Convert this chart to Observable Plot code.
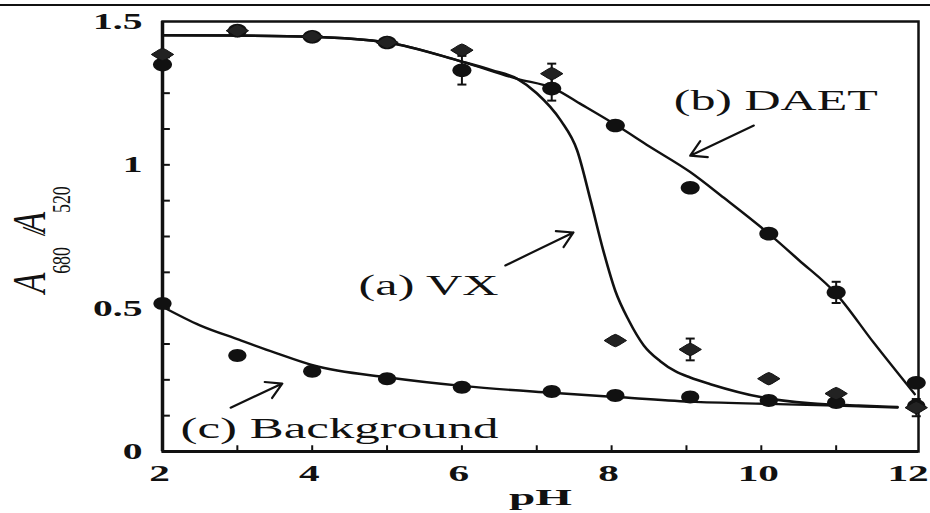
<!DOCTYPE html>
<html><head><meta charset="utf-8">
<script src="https://cdn.jsdelivr.net/npm/d3@7"></script>
<script src="https://cdn.jsdelivr.net/npm/@observablehq/plot@0.6"></script>
<style>
html,body{margin:0;padding:0;background:#fff;}
#wrap{position:relative;width:930px;height:513px;overflow:hidden;}
#scanline{position:absolute;left:0;top:4px;width:930px;height:2px;background:#111;}
#chart{position:absolute;left:0;top:0;}
</style></head><body>
<div id="wrap"><div id="chart"></div><div id="scanline"></div></div>
<script>
// measured pH of the data points
const pH = [2, 3, 4, 5, 6, 7.2, 8.05, 9.05, 10.1, 11, 12.07];
// (a) VX
const vxValues = [1.385, 1.468, 1.447, 1.427, 1.40, 1.318, 0.387, 0.356, 0.254, 0.202, 0.153];
const vxErrors = [0, 0, 0, 0, 0, 0.035, 0, 0.038, 0, 0, 0.03];
// (b) DAET
const daetValues = [1.35, 1.468, 1.447, 1.427, 1.33, 1.266, 1.137, 0.92, 0.76, 0.555, 0.24];
const daetErrors = [0, 0, 0, 0, 0.05, 0.042, 0, 0, 0, 0.037, 0];
// (c) Background
const bgValues = [0.516, 0.335, 0.28, 0.254, 0.224, 0.209, 0.195, 0.19, 0.178, 0.171, 0.16];

// fitted curves
const vxFitPH     = [2, 3, 4, 5, 6, 6.4, 6.74, 7.0, 7.32, 7.54, 7.72, 7.89, 8.05, 8.23, 8.43, 8.65, 8.85, 9.05, 9.32, 9.99, 10.66, 11.3, 11.82];
const vxFitValues = [1.452, 1.451, 1.447, 1.427, 1.36, 1.33, 1.30, 1.25, 1.155, 1.05, 0.875, 0.70, 0.56, 0.457, 0.37, 0.315, 0.28, 0.258, 0.235, 0.19, 0.168, 0.16, 0.155];
const daetFitPH     = [2, 3, 4, 5, 6, 6.74, 7.23, 7.6, 8.07, 8.5, 9.05, 9.5, 10.1, 10.5, 11.0, 11.5, 12.05];
const daetFitValues = [1.452, 1.451, 1.447, 1.427, 1.36, 1.30, 1.266, 1.21, 1.137, 1.065, 0.975, 0.885, 0.76, 0.668, 0.55, 0.38, 0.2];
const bgFitPH     = [2, 2.5, 3.02, 3.5, 4.02, 5.02, 6.03, 7.2, 8.07, 9.05, 10.1, 11, 11.82];
const bgFitValues = [0.505, 0.44, 0.39, 0.345, 0.30, 0.258, 0.228, 0.205, 0.19, 0.174, 0.166, 0.16, 0.153];

// axes
const xTicks = [2, 4, 6, 8, 10, 12];
const xTickLabels = ["2", "4", "6", "8", "10", "12"];
const xMinorTicks = [3, 4, 5, 6, 7, 8, 9, 10, 11];
const yTicks = [0, 0.5, 1, 1.5];
const yTickLabels = ["0", "0.5", "1", "1.5"];
const yMinorTicks = [0.125, 0.25, 0.375, 0.5, 0.625, 0.75, 0.875, 1, 1.125, 1.25, 1.375];
const xLabel = ["pH"];
const yLabelParts = [["A", "italic"], ["680", "sub"], ["/", "italic"], ["A", "italic"], ["520", "sub"]];

// annotations
const annotations = [
  {text: "(b) DAET", x: 8.83, y: 1.224},
  {text: "(a) VX", x: 4.62, y: 0.579},
  {text: "(c) Background", x: 2.24, y: 0.08}
];
const arrows = [
  {x1: 9.90, y1: 1.137, x2: 9.05, y2: 1.032},
  {x1: 6.58, y1: 0.649, x2: 7.49, y2: 0.764},
  {x1: 2.91, y1: 0.153, x2: 3.60, y2: 0.237}
];

const pts = (vals, errs) => pH.map((x, i) => ({x, y: vals[i], e: errs ? errs[i] : 0}));
const fit = (xs, ys) => xs.map((x, i) => ({x, y: ys[i]}));
const vxPts = pts(vxValues, vxErrors), daetPts = pts(daetValues, daetErrors), bgPts = pts(bgValues);
const errPts = [...vxPts, ...daetPts].filter(d => d.e > 0);

const ellipseSym = {draw(ctx, size) {
  const r = Math.sqrt(size / Math.PI), rx = r * 1.4, ry = r, k = 0.5523;
  ctx.moveTo(rx, 0);
  ctx.bezierCurveTo(rx, ry * k, rx * k, ry, 0, ry);
  ctx.bezierCurveTo(-rx * k, ry, -rx, ry * k, -rx, 0);
  ctx.bezierCurveTo(-rx, -ry * k, -rx * k, -ry, 0, -ry);
  ctx.bezierCurveTo(rx * k, -ry, rx, -ry * k, rx, 0);
  ctx.closePath();
}};
const diamondSym = {draw(ctx, size) {
  const r = Math.sqrt(size / Math.PI);
  ctx.moveTo(-1.8 * r, 0);
  ctx.lineTo(-0.5 * r, -0.8 * r);
  ctx.lineTo(0, -r);
  ctx.lineTo(0.5 * r, -0.8 * r);
  ctx.lineTo(1.8 * r, 0);
  ctx.lineTo(0.5 * r, 0.8 * r);
  ctx.lineTo(0, r);
  ctx.lineTo(-0.5 * r, 0.8 * r);
  ctx.closePath();
}};
const capSym = {draw(ctx, size) {
  const r = Math.sqrt(size / Math.PI);
  ctx.moveTo(-r, 0); ctx.lineTo(r, 0);
}};

const serif = "Liberation Serif, Times New Roman, serif";
const svg = Plot.plot({
  width: 930, height: 513,
  marginLeft: 162, marginRight: 12, marginTop: 21, marginBottom: 62,
  style: {background: "#fff", color: "#111", fontFamily: serif},
  x: {domain: [2, 12.1]},
  y: {domain: [0, 1.5]},
  marks: [
    Plot.axisY({ticks: yTicks, tickSize: 0, tickPadding: 20, tickFormat: (d, i) => yTickLabels[i],
      fontSize: 23, fontWeight: "bold", fontFamily: serif, label: null}),
    Plot.axisX({ticks: xTicks, tickSize: 0, tickPadding: 12, tickFormat: (d, i) => xTickLabels[i],
      fontSize: 24, fontWeight: "bold", fontFamily: serif, label: null, dx: -3}),
    Plot.text(xLabel, {frameAnchor: "bottom", dy: 53, fontSize: 24, fontWeight: "bold", fontFamily: serif, fill: "#111"}),
    Plot.ruleY(yMinorTicks, {y: d => d, x1: 2, x2: 2.105, stroke: "#111", strokeWidth: 2}),
    Plot.ruleX(xMinorTicks, {x: d => d, y1: 0, y2: 0.02, stroke: "#111", strokeWidth: 2}),
    Plot.frame({stroke: "#111", strokeWidth: 2.5}),
    Plot.ruleX([2], {stroke: "#111", strokeWidth: 3.5}),
    Plot.ruleY([0], {stroke: "#111", strokeWidth: 3}),
    Plot.line(fit(bgFitPH, bgFitValues), {x: "x", y: "y", curve: "monotone-x", stroke: "#111", strokeWidth: 2.4}),
    Plot.line(fit(daetFitPH, daetFitValues), {x: "x", y: "y", curve: "monotone-x", stroke: "#111", strokeWidth: 2.4}),
    Plot.line(fit(vxFitPH, vxFitValues), {x: "x", y: "y", curve: "monotone-x", stroke: "#111", strokeWidth: 2.6}),
    Plot.ruleX(errPts, {x: "x", y1: d => d.y - d.e, y2: d => d.y + d.e, stroke: "#111", strokeWidth: 2}),
    Plot.dot(errPts, {x: "x", y: d => d.y + d.e, symbol: capSym, r: 4.5, fill: "none", stroke: "#111", strokeWidth: 2}),
    Plot.dot(errPts, {x: "x", y: d => d.y - d.e, symbol: capSym, r: 4.5, fill: "none", stroke: "#111", strokeWidth: 2}),
    Plot.dot(bgPts, {x: "x", y: "y", symbol: ellipseSym, r: 6.5, fill: "#111", stroke: "none"}),
    Plot.dot(daetPts, {x: "x", y: "y", symbol: ellipseSym, r: 6.8, fill: "#111", stroke: "none"}),
    Plot.dot(vxPts, {x: "x", y: "y", symbol: diamondSym, r: 6.2, fill: "#222", stroke: "#111", strokeWidth: 1}),
    Plot.arrow(arrows, {x1: "x1", y1: "y1", x2: "x2", y2: "y2", stroke: "#111", strokeWidth: 2.2, headLength: 12}),
    Plot.text(annotations, {x: "x", y: "y", text: "text", textAnchor: "start", fontSize: 30, fontFamily: serif, fill: "#111"})
  ]
});
document.getElementById("chart").append(svg);

// the scanned figure is stretched horizontally: widen the glyphs
const targets = {"pH": 63, "(b) DAET": 204, "(a) VX": 140, "(c) Background": 318};
svg.querySelectorAll("text").forEach(t => {
  const s = t.textContent;
  const w = t.getComputedTextLength();
  const target = targets[s] != null ? targets[s] : w * 1.72;
  t.setAttribute("textLength", target);
  t.setAttribute("lengthAdjust", "spacingAndGlyphs");
});

// y axis label A680 / A520: rotated group, each part its own text element
const outer = d3.select(svg).append("g").attr("transform", "translate(45,283) rotate(-90)");
const inner = outer.append("g");
let cursor = 0;
yLabelParts.forEach(([s, kind]) => {
  const t = inner.append("text")
    .attr("x", cursor)
    .attr("y", kind === "sub" ? 19 : 0)
    .attr("font-family", serif)
    .attr("font-size", kind === "sub" ? 19 : (s === "/" ? 26 : 36))
    .attr("font-style", kind === "sub" ? "normal" : "italic")
    .attr("fill", "#111")
    .text(s);
  cursor += t.node().getComputedTextLength() + (s === "/" ? 3 : 2);
});
inner.attr("transform", `scale(${112 / cursor},1.3)`);
</script>
</body></html>
